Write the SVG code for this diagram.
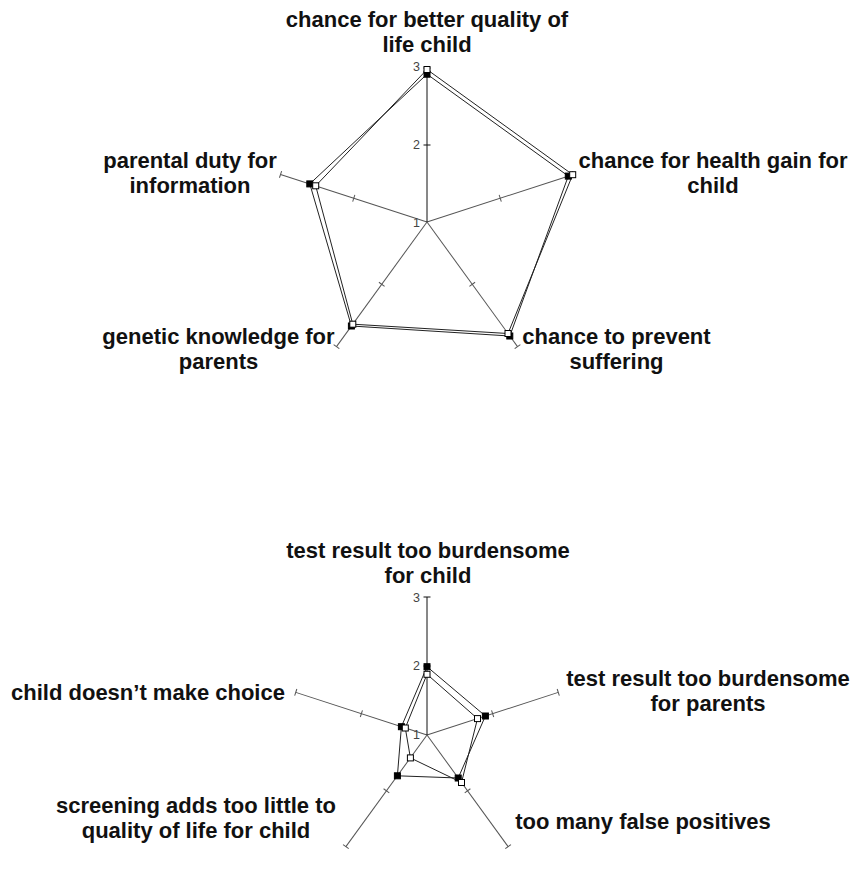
<svg xmlns="http://www.w3.org/2000/svg" width="860" height="876" viewBox="0 0 860 876">
<style>
.lbl{font-family:"Liberation Sans",Arial,sans-serif;font-weight:bold;font-size:22px;fill:#111;text-anchor:middle}
.num{font-family:"Liberation Sans",Arial,sans-serif;font-size:12.5px;fill:#444;text-anchor:end}
.ax{stroke:#555;stroke-width:1;fill:none}
.ax0{stroke:#111;stroke-width:1;fill:none}
.ser{stroke:#222;stroke-width:1;fill:none}
.sqb{fill:#000;stroke:#000;stroke-width:1}
.sqw{fill:#fff;stroke:#000;stroke-width:1}
</style>
<rect width="860" height="876" fill="#fff"/>
<defs>
<g id="axT"><line class="ax" x1="0" y1="0" x2="154" y2="0"/><line class="ax" x1="77" y1="-3.5" x2="77" y2="3.5"/><line class="ax" x1="154" y1="-3.5" x2="154" y2="3.5"/></g>
<g id="axB"><line class="ax" x1="0" y1="0" x2="138" y2="0"/><line class="ax" x1="69" y1="-3.5" x2="69" y2="3.5"/><line class="ax" x1="138" y1="-3.5" x2="138" y2="3.5"/></g>
<rect id="sq" x="-3" y="-3" width="6" height="6"/>
</defs>

<!-- Top chart -->
<g id="chart-top">
<g id="top-axes" transform="translate(427,222)">
<g transform="rotate(-18)"><use href="#axT"/></g>
<g transform="rotate(54)"><use href="#axT"/></g>
<g transform="rotate(126)"><use href="#axT"/></g>
<g transform="rotate(198)"><use href="#axT"/></g>
<g transform="rotate(-90)"><line class="ax0" x1="0" y1="0" x2="154" y2="0"/><line class="ax0" x1="77" y1="-3.5" x2="77" y2="3.5"/><line class="ax0" x1="154" y1="-3.5" x2="154" y2="3.5"/></g>
</g>
<g id="top-scale">
<text class="num" x="420" y="71">3</text>
<text class="num" x="420" y="149">2</text>
<text class="num" x="420" y="227">1</text>
</g>
<g id="top-series">
<polygon class="ser" points="427,74.2 568.3,176.1 509.8,336 351.4,326 309.8,183.9"/>
<polygon class="ser" points="427,69.5 572.7,174.7 508,333.5 352.8,324.2 315.7,185.8"/>
<g class="sqb">
<use href="#sq" x="427" y="74.2"/><use href="#sq" x="568.3" y="176.1"/><use href="#sq" x="509.8" y="336"/><use href="#sq" x="351.4" y="326"/><use href="#sq" x="309.8" y="183.9"/>
</g>
<g class="sqw">
<use href="#sq" x="427" y="69.5"/><use href="#sq" x="572.7" y="174.7"/><use href="#sq" x="508" y="333.5"/><use href="#sq" x="352.8" y="324.2"/><use href="#sq" x="315.7" y="185.8"/>
</g>
</g>
<g id="top-label-0"><text class="lbl" x="427" y="26.5">chance for better quality of</text><text class="lbl" x="427" y="51.5">life child</text></g>
<g id="top-label-1"><text class="lbl" x="713" y="168">chance for health gain for</text><text class="lbl" x="713" y="193">child</text></g>
<g id="top-label-2"><text class="lbl" x="616.5" y="343.5">chance to prevent</text><text class="lbl" x="616.5" y="368.5">suffering</text></g>
<g id="top-label-3"><text class="lbl" x="218.5" y="343.5">genetic knowledge for</text><text class="lbl" x="218.5" y="368.5">parents</text></g>
<g id="top-label-4"><text class="lbl" x="190" y="167.5">parental duty for</text><text class="lbl" x="190" y="193">information</text></g>
</g>

<!-- Bottom chart -->
<g id="chart-bottom">
<g id="bottom-axes" transform="translate(427,735)">
<g transform="rotate(-18)"><use href="#axB"/></g>
<g transform="rotate(54)"><use href="#axB"/></g>
<g transform="rotate(126)"><use href="#axB"/></g>
<g transform="rotate(198)"><use href="#axB"/></g>
<g transform="rotate(-90)"><line class="ax0" x1="0" y1="0" x2="138" y2="0"/><line class="ax0" x1="69" y1="-3.5" x2="69" y2="3.5"/><line class="ax0" x1="138" y1="-3.5" x2="138" y2="3.5"/></g>
</g>
<g id="bottom-scale">
<text class="num" x="420" y="601.5">3</text>
<text class="num" x="420" y="670">2</text>
<text class="num" x="420" y="739">1</text>
</g>
<g id="bottom-series">
<polygon class="ser" points="427,666.7 485.4,716 458.2,778 397.4,775.8 401.4,726.7"/>
<polygon class="ser" points="427,674.3 477.5,718.6 461.5,782.5 410.4,757.9 405.3,728"/>
<g class="sqb">
<use href="#sq" x="427" y="666.7"/><use href="#sq" x="485.4" y="716"/><use href="#sq" x="458.2" y="778"/><use href="#sq" x="397.4" y="775.8"/><use href="#sq" x="401.4" y="726.7"/>
</g>
<g class="sqw">
<use href="#sq" x="427" y="674.3"/><use href="#sq" x="477.5" y="718.6"/><use href="#sq" x="461.5" y="782.5"/><use href="#sq" x="410.4" y="757.9"/><use href="#sq" x="405.3" y="728"/>
</g>
</g>
<g id="bottom-label-0"><text class="lbl" x="428" y="557.5">test result too burdensome</text><text class="lbl" x="428" y="582.5">for child</text></g>
<g id="bottom-label-1"><text class="lbl" x="708" y="686">test result too burdensome</text><text class="lbl" x="708" y="711">for parents</text></g>
<g id="bottom-label-2"><text class="lbl" x="643" y="829">too many false positives</text></g>
<g id="bottom-label-3"><text class="lbl" x="196" y="813">screening adds too little to</text><text class="lbl" x="196" y="838">quality of life for child</text></g>
<g id="bottom-label-4"><text class="lbl" x="148" y="700">child doesn’t make choice</text></g>
</g>
</svg>
